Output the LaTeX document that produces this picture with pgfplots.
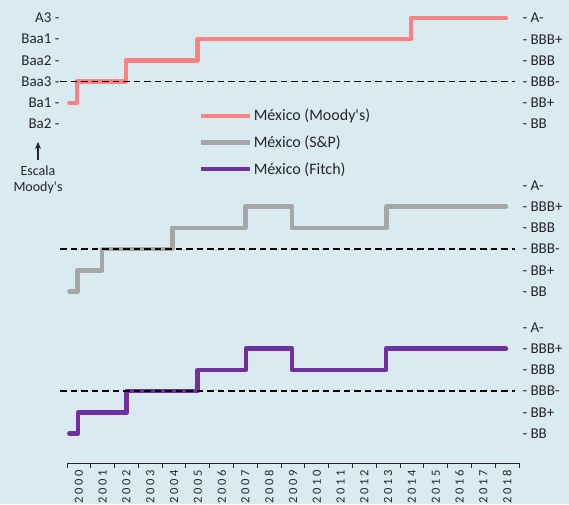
\documentclass[border=0pt]{standalone}
\usepackage{fontspec}
\setmainfont{Carlito}
\newfontfamily\yearfont[LetterSpace=20]{Carlito}
\usepackage{pgfplots}
\pgfplotsset{compat=1.18}
\usetikzlibrary{arrows.meta}

\definecolor{bgblue}{RGB}{218,234,241}
\definecolor{moody}{RGB}{255,128,128}
\definecolor{sp}{RGB}{166,166,166}
\definecolor{fitch}{RGB}{112,48,160}
\definecolor{txt}{RGB}{38,38,38}

\pgfplotsset{
  panel/.style={
    x=23.79pt, y=21.2pt, xmin=0, xmax=19, ymin=-0.5, ymax=5.5,
    anchor=south west, clip=false,
    axis x line*=bottom, axis y line*=right,
    x axis line style={draw=none}, y axis line style={draw=none},
    xtick=\empty, ytick={0,...,5}, ytick style={draw=none},
    major tick length=0pt,
    yticklabels={- BB,- BB+,- BBB-,- BBB,- BBB+,- A-},
    yticklabel style={font=\fontsize{15}{18}\selectfont, anchor=west, text=txt},
  },
  rating/.style={line width=4.5pt, const plot, line cap=round, line join=round, mark=none},
  ref/.style={black, line width=1.5pt, dash pattern=on 6.5pt off 4pt, forget plot, mark=none},
}

\begin{document}
\begin{tikzpicture}
\fill[bgblue] (0,0) rectangle (569pt,504pt);

% Moody's (top)
\begin{axis}[panel, at={(67pt,369.4pt)},
  legend style={draw=none, fill=none, inner sep=0pt, row sep=9.5pt,
    at={(axis cs:5.51,0.80)}, anchor=north west,
    font=\fontsize{16}{19}\selectfont, text=txt, cells={anchor=west}},
  legend image code/.code={\draw[#1,line cap=butt] (0pt,0pt) -- (49pt,0pt);}]
  \addplot[rating, moody] coordinates {(0.1,1) (0.42,2) (2.48,3) (5.49,4) (14.46,5) (18.45,5)};
  \addlegendimage{rating, sp}
  \addlegendimage{rating, fitch}
  \addplot[ref] coordinates {(-0.29,2) (18.83,2)};
  \legend{México (Moody\textquotesingle s), México (S\&P), México (Fitch)}
\end{axis}
\begin{axis}[panel, at={(67pt,369.4pt)}, axis y line*=left,
  yticklabels={Ba2 -,Ba1 -,Baa3 -,Baa2 -,Baa1 -,A3 -},
  yticklabel style={anchor=east, xshift=-4pt}]
  \addplot[draw=none, forget plot] coordinates {(0,0) (1,0)};
\end{axis}

% S&P (middle)
\begin{axis}[panel, at={(67pt,201.9pt)}]
  \addplot[rating, sp] coordinates {(0.1,0) (0.44,1) (1.48,2) (4.43,3) (7.51,4) (9.46,3) (13.44,4) (18.45,4)};
  \addplot[ref] coordinates {(-0.29,2) (18.83,2)};
\end{axis}

% Fitch (bottom)
\begin{axis}[panel, at={(67pt,41pt)}, ymin=-1.39,
  x axis line style={draw=txt, line width=1pt},
  xtick={0.5,1.5,...,18.5},
  xticklabels={2000,2001,2002,2003,2004,2005,2006,2007,2008,2009,2010,2011,2012,2013,2014,2015,2016,2017,2018},
  xtick style={draw=none},
  minor xtick={0,...,19}, minor tick length=5pt,
  minor x tick style={draw=txt, line width=1pt}, tick align=outside,
  xticklabel style={yshift=-4pt, rotate=90, anchor=east, text=txt, font=\yearfont\fontsize{12.5}{14}\selectfont}]
  \addplot[rating, fitch] coordinates {(0.1,0) (0.47,1) (2.51,2) (5.49,3) (7.52,4) (9.46,3) (13.4,4) (18.45,4)};
  \addplot[ref] coordinates {(-0.29,2) (18.83,2)};
\end{axis}

\draw[-{Stealth[length=7pt,width=6pt]}, line width=1.4pt, txt] (38pt,344pt) -- (38pt,362pt);
\node[align=center, text=txt, font=\fontsize{14}{16}\selectfont] at (38pt,324pt) {Escala\\Moody\textquotesingle s};

\pgfresetboundingbox
\path[use as bounding box] (0,0) rectangle (569pt,504pt);
\end{tikzpicture}
\end{document}
